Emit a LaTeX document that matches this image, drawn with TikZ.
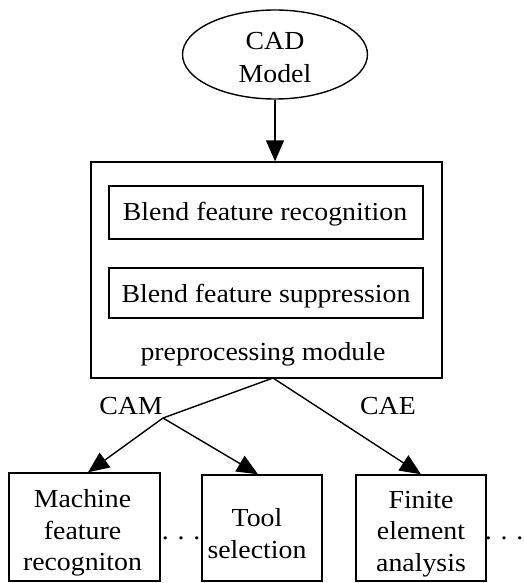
\documentclass[tikz,border=0pt]{standalone}
\usepackage{fontspec}
\setmainfont[FakeStretch=1.07]{Liberation Serif}
\usetikzlibrary{arrows.meta,shapes.geometric,calc}
\tikzset{
  box/.style={draw, line width=1.4pt, inner sep=0pt, rectangle},
  txt/.style={align=center, inner sep=0pt, font=\fontsize{26}{31.5}\selectfont},
  arr/.style={line width=1.4pt, -{Triangle[length=21pt,width=18pt]}},
  lin/.style={line width=1.4pt}
}
\begin{document}
\begin{tikzpicture}[x=1pt,y=-1pt]
\fill[white] (0,0) rectangle (523,583);
\useasboundingbox (0,0) rectangle (523,583);
% CAD model
\node[ellipse, draw, line width=1.4pt, minimum width=185pt, minimum height=89pt, inner sep=0pt] (cad) at (275,54.5) {};
\node[txt, font=\fontsize{26}{33}\selectfont] (cadtxt) at (275,58) {CAD\\Model};
% preprocessing module
\node[box, minimum width=351pt, minimum height=216pt] (pre) at (266.5,270) {};
\node[box, minimum width=314pt, minimum height=53pt] (rec) at (266,212.5) {};
\node[txt] (rectxt) at (265,214) {Blend feature recognition};
\node[box, minimum width=314pt, minimum height=50pt] (sup) at (266,293) {};
\node[txt] (suptxt) at (266,296) {Blend feature suppression};
\node[txt] (pretxt) at (263,354) {preprocessing module};
% bottom boxes
\node[box, minimum width=151pt, minimum height=108pt] (mach) at (84.5,527) {};
\node[txt] (machtxt) at (82.5,533) {Machine\\feature\\recogniton};
\node[box, minimum width=120pt, minimum height=106pt] (tool) at (262,528) {};
\node[txt] (tooltxt) at (257,533.5) {Tool\\selection};
\node[box, minimum width=130pt, minimum height=106pt] (fin) at (421,528) {};
\node[txt] (fintxt) at (421,534) {Finite\\element\\analysis};
% dots
\node[txt, anchor=base] (dots1) at (181,539) {.\hspace{8.8pt}.\hspace{8.8pt}.};
\node[txt, anchor=base] (dots2) at (504,539) {.\hspace{8.8pt}.\hspace{8.8pt}.};
% labels
\node[txt] (camlbl) at (131,406.5) {CAM};
\node[txt] (caelbl) at (388,406.5) {CAE};
% connectors
\draw[arr] (cad.south) -- (cad.south |- pre.north);
\coordinate (fork) at (273,378);
\coordinate (cam) at (163,418);
\draw[lin] (fork) -- (cam);
\draw[arr] (cam) -- ($(mach.north)+(3.5,0)$);
\draw[arr] (cam) -- ($(tool.north)+(-4,0)$);
\draw[arr] (fork) -- (fin.north);
\end{tikzpicture}
\end{document}
